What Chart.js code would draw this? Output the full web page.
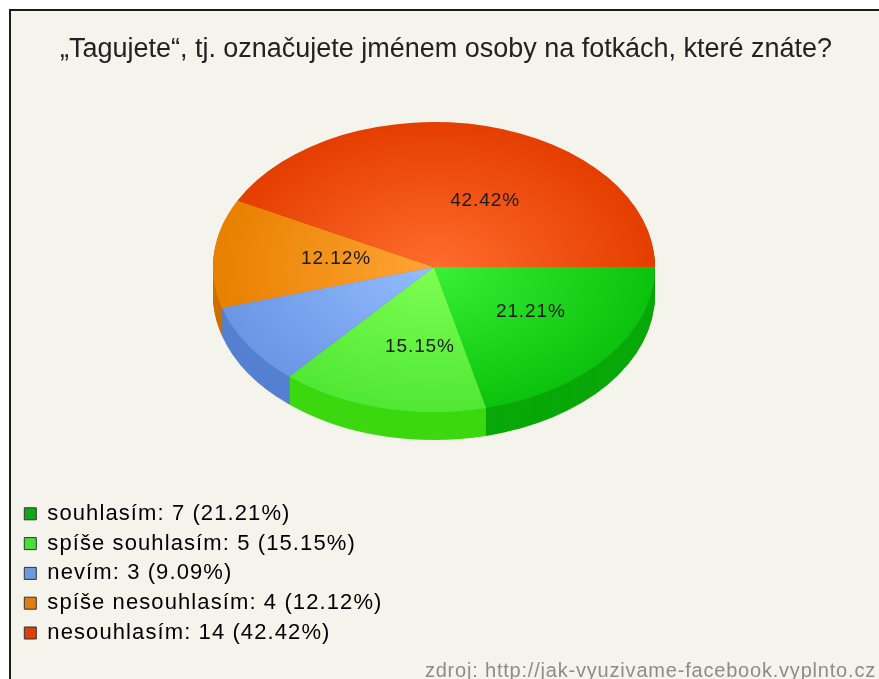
<!DOCTYPE html>
<html><head><meta charset="utf-8">
<style>html,body{margin:0;padding:0;background:#fff}canvas{display:block}</style>
<script src="https://cdn.jsdelivr.net/npm/chart.js@4/dist/chart.umd.min.js"></script>
</head><body>
<div style="width:879px;height:679px"><canvas id="c" width="879" height="679"></canvas></div>
<script>
const titleText = '„Tagujete“, tj. označujete jménem osoby na fotkách, které znáte?';
const sourceText = 'zdroj: http://jak-vyuzivame-facebook.vyplnto.cz';
const categories = ['souhlasím', 'spíše souhlasím', 'nevím', 'spíše nesouhlasím', 'nesouhlasím'];
const values = [7, 5, 3, 4, 14];
const percents = ['21.21%', '15.15%', '9.09%', '12.12%', '42.42%'];
const sliceLabels = ['21.21%', '15.15%', '', '12.12%', '42.42%'];

const innerColors = ['#38f038', '#7eff52', '#94bcff', '#ffa535', '#ff6c2c'];
const outerColors = ['#0cc20c', '#50e834', '#6a96e4', '#e88000', '#e43e00'];
const sideColors  = ['#08a808', '#3cd810', '#5480d0', '#cc7000', '#c43400'];
const keyColors   = ['#10a818', '#48e038', '#6c98dc', '#e07c10', '#dc4008'];
const labelNudge  = [[10,0],[12,9],[0,0],[12,-1],[25,4]];

const G = {cx:434, cy:267, r:221, squash:145/221, depth:28};

const draw3d = {
  id:'draw3d',
  afterLayout(chart){
    chart.chartArea = {left:G.cx-G.r, right:G.cx+G.r, top:G.cy-G.r, bottom:G.cy+G.r, width:2*G.r, height:2*G.r};
    const t = chart.titleBlock; const th = t.bottom-t.top;
    t.left = 60; t.right = 832; t.top = 33; t.bottom = 33+th;
    const l = chart.legend;
    l.left = 16.5; l.right = 500; l.top = 495; l.bottom = 679;
    if(!l._spaced){
      l._spaced = true;
      const orig = l.draw;
      l.draw = function(){
        const c = this.ctx; c.save(); c.letterSpacing='1.1px'; orig.call(this); c.restore();
      };
    }
  },
  beforeDraw(chart){
    const c = chart.ctx;
    c.save();
    c.fillStyle='#ffffff'; c.fillRect(0,0,879,679);
    c.fillStyle='#f4f3ec'; c.fillRect(9,9,870,670);
    c.fillStyle='#1c1c1c'; c.fillRect(9,9,870,2); c.fillRect(9,9,2,670);
    c.restore();
  },
  beforeDatasetsDraw(chart){
    const c = chart.ctx, arcs = chart.getDatasetMeta(0).data;
    for(let d=G.depth;d>=1;d--){
      arcs.forEach((a,i)=>{
        c.save();
        c.translate(a.x,a.y+d); c.scale(1,G.squash);
        c.beginPath(); c.moveTo(0,0);
        c.arc(0,0,a.outerRadius,a.startAngle,a.endAngle);
        c.closePath(); c.fillStyle=sideColors[i]; c.fill();
        c.restore();
      });
    }
    c.save();
    c.translate(G.cx,G.cy); c.scale(1,G.squash); c.translate(-G.cx,-G.cy);
  },
  afterDatasetsDraw(chart){
    const c = chart.ctx;
    c.restore();
    const arcs = chart.getDatasetMeta(0).data;
    c.save();
    c.font='19px "Liberation Sans"'; c.fillStyle='#1a1a1a'; c.letterSpacing='0.9px';
    c.textAlign='center'; c.textBaseline='middle';
    arcs.forEach((a,i)=>{
      if(!sliceLabels[i]) return;
      const p=a.getCenterPoint();
      c.fillText(sliceLabels[i], p.x+labelNudge[i][0], G.cy+(p.y-G.cy)*G.squash+labelNudge[i][1]);
    });
    c.restore();
  },
  afterDraw(chart){
    const c = chart.ctx;
    c.save();
    c.font='20px "Liberation Sans"'; c.fillStyle='#8c8c88'; c.letterSpacing='0.8px';
    c.textAlign='right'; c.textBaseline='alphabetic';
    c.fillText(sourceText,876,677);
    c.restore();
  }
};

new Chart(document.getElementById('c'),{
  type:'pie',
  data:{labels:categories,datasets:[{
    data:values,borderWidth:0,
    backgroundColor(ctx){
      const g=ctx.chart.ctx.createRadialGradient(G.cx,G.cy,0,G.cx,G.cy,G.r);
      g.addColorStop(0,innerColors[ctx.dataIndex]);
      g.addColorStop(1,outerColors[ctx.dataIndex]);
      return g;
    }
  }]},
  options:{
    responsive:false,animation:false,events:[],rotation:90,
    plugins:{
      tooltip:{enabled:false},
      title:{display:true,text:titleText,color:'#222',align:'center',padding:0,
        font:{family:'"Liberation Sans"',size:27,weight:'normal',lineHeight:1.2}},
      legend:{display:true,position:'left',align:'start',
        labels:{boxWidth:12,boxHeight:12,padding:7.8,color:'#2a2a2a',
          font:{family:'"Liberation Sans"',size:22,lineHeight:0.95},
          generateLabels(){
            return categories.map((n,i)=>({
              text:`${n}: ${values[i]} (${percents[i]})`,
              fillStyle:keyColors[i],strokeStyle:'#333',lineWidth:1,index:i,hidden:false}));
          }}}
    }
  },
  plugins:[draw3d]
});
</script>
</body></html>
